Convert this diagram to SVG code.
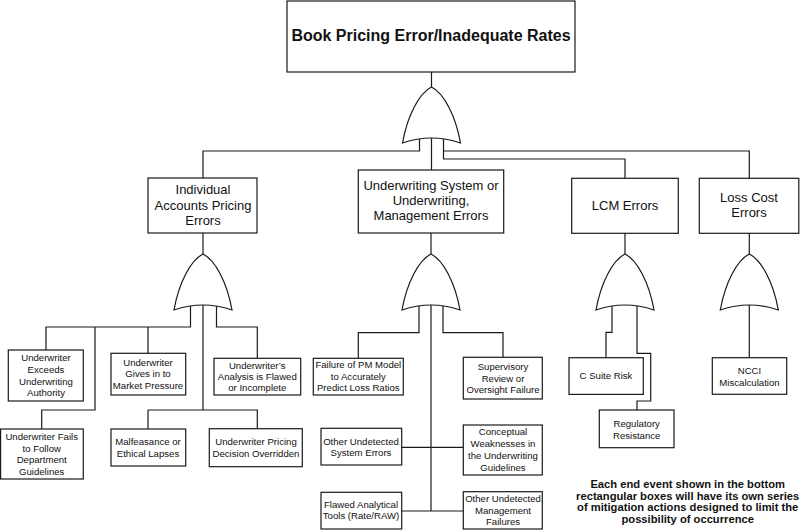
<svg xmlns="http://www.w3.org/2000/svg" width="800" height="531" viewBox="0 0 800 531">
<style>
  .box { fill: #ffffff; stroke: #1a1a1a; stroke-width: 1.2; }
  .gate { fill: #ffffff; stroke: #1a1a1a; stroke-width: 1.2; stroke-linejoin: miter; }
  .conn { fill: none; stroke: #1a1a1a; stroke-width: 1.2; }
  text { font-family: "Liberation Sans", Arial, sans-serif; fill: #111111; text-anchor: middle; }
  .title { font-size: 16px; font-weight: bold; }
  .mid { font-size: 13px; }
  .small { font-size: 9.6px; }
  .note { font-size: 11.2px; font-weight: bold; }
</style>
<defs>
  <path id="orgate" d="M0,0 C-12,6 -24,28 -29,56 Q0,46 29,56 C24,28 12,6 0,0 Z"/>
</defs>

<g id="connectors" class="conn">
  <!-- top -->
  <path d="M431.5,72 V170"/>
  <path d="M419.5,138 V151 H203 V178"/>
  <path d="M443.5,138 V159 H625 V178.3"/>
  <path d="M443.5,151 H749.3 V178.3"/>
  <!-- individual subtree -->
  <path d="M203,233 V410"/>
  <path d="M148,410 H257.3 V429"/>
  <path d="M148,410 V429"/>
  <path d="M190.5,305 V327 H46 V350"/>
  <path d="M148,327 V353.3"/>
  <path d="M95,327 V410 H41.7 V429"/>
  <path d="M216.5,305 V327 H257.3 V358.3"/>
  <!-- middle subtree -->
  <path d="M431,233 V511"/>
  <path d="M419,305 V332.7 H358.3 V358.3"/>
  <path d="M443,305 V332.7 H503 V357.3"/>
  <path d="M401.7,447.3 H463.3"/>
  <path d="M401.7,511 H463.3"/>
  <!-- LCM subtree -->
  <path d="M625,233 V260"/>
  <path d="M612,305 V332.3 H606 V357.7"/>
  <path d="M637,305 V353.3 H650.7 V401 H637 V410"/>
  <!-- loss cost subtree -->
  <path d="M749.3,233 V357.7"/>
</g>

<g id="gate-top"><use href="#orgate" class="gate" transform="translate(431.5,87)"/></g>
<g id="gate-individual"><use href="#orgate" class="gate" transform="translate(203,254)"/></g>
<g id="gate-system"><use href="#orgate" class="gate" transform="translate(431,254)"/></g>
<g id="gate-lcm"><use href="#orgate" class="gate" transform="translate(625,254)"/></g>
<g id="gate-losscost"><use href="#orgate" class="gate" transform="translate(749.3,254)"/></g>

<g id="top">
  <rect class="box" x="287" y="1" width="288" height="71"/>
  <text class="title" x="431" y="41">Book Pricing Error/Inadequate Rates</text>
</g>

<g id="individual">
  <rect class="box" x="148" y="178" width="109" height="55"/>
  <text class="mid" x="203"><tspan x="203" y="194.3">Individual</tspan><tspan x="203" y="209.6">Accounts Pricing</tspan><tspan x="203" y="224.9">Errors</tspan></text>
</g>

<g id="system">
  <rect class="box" x="358.3" y="170" width="145.4" height="63"/>
  <text class="mid" x="431"><tspan x="431" y="189.6">Underwriting System or</tspan><tspan x="431" y="204.6">Underwriting,</tspan><tspan x="431" y="220.3">Management Errors</tspan></text>
</g>

<g id="lcm">
  <rect class="box" x="571.7" y="178.3" width="106.6" height="55"/>
  <text class="mid" x="625" y="209.6">LCM Errors</text>
</g>

<g id="losscost">
  <rect class="box" x="699.3" y="178.3" width="99.5" height="55"/>
  <text class="mid" x="749"><tspan x="749" y="201.9">Loss Cost</tspan><tspan x="749" y="216.9">Errors</tspan></text>
</g>

<g id="exceeds">
  <rect class="box" x="8.3" y="350" width="75" height="51"/>
  <text class="small"><tspan x="46" y="361.2">Underwriter</tspan><tspan x="46" y="372.8">Exceeds</tspan><tspan x="46" y="384.5">Underwriting</tspan><tspan x="46" y="396.2">Authority</tspan></text>
</g>

<g id="gives-in">
  <rect class="box" x="111" y="353.3" width="74.7" height="41.7"/>
  <text class="small"><tspan x="148" y="365.8">Underwriter</tspan><tspan x="148" y="376.8">Gives in to</tspan><tspan x="148" y="388.5">Market Pressure</tspan></text>
</g>

<g id="analysis">
  <rect class="box" x="214" y="358.3" width="86.7" height="36.7"/>
  <text class="small"><tspan x="257.3" y="368.5">Underwriter’s</tspan><tspan x="257.3" y="379.8">Analysis is Flawed</tspan><tspan x="257.3" y="391.2">or Incomplete</tspan></text>
</g>

<g id="fails">
  <rect class="box" x="0.6" y="429" width="82.7" height="50"/>
  <text class="small"><tspan x="41.7" y="440.2">Underwriter Fails</tspan><tspan x="41.7" y="451.5">to Follow</tspan><tspan x="41.7" y="463.2">Department</tspan><tspan x="41.7" y="474.5">Guidelines</tspan></text>
</g>

<g id="malfeasance">
  <rect class="box" x="111" y="429" width="74.7" height="37"/>
  <text class="small"><tspan x="148" y="445.2">Malfeasance or</tspan><tspan x="148" y="456.8">Ethical Lapses</tspan></text>
</g>

<g id="overridden">
  <rect class="box" x="209.3" y="428.7" width="93" height="38"/>
  <text class="small"><tspan x="256" y="444.5">Underwriter Pricing</tspan><tspan x="256" y="456.5">Decision Overridden</tspan></text>
</g>

<g id="pm-model">
  <rect class="box" x="313.3" y="358.3" width="90" height="36.7"/>
  <text class="small"><tspan x="358.3" y="368.2">Failure of PM Model</tspan><tspan x="358.3" y="379.5">to Accurately</tspan><tspan x="358.3" y="390.8">Predict Loss Ratios</tspan></text>
</g>

<g id="supervisory">
  <rect class="box" x="463.3" y="357.3" width="79" height="41.7"/>
  <text class="small"><tspan x="503" y="370.2">Supervisory</tspan><tspan x="503" y="381.7">Review or</tspan><tspan x="503" y="392.8">Oversight Failure</tspan></text>
</g>

<g id="other-system">
  <rect class="box" x="321" y="428.3" width="80.7" height="36.7"/>
  <text class="small"><tspan x="361" y="445.2">Other Undetected</tspan><tspan x="361" y="456.2">System Errors</tspan></text>
</g>

<g id="conceptual">
  <rect class="box" x="463.3" y="425" width="79" height="50"/>
  <text class="small"><tspan x="503" y="435.2">Conceptual</tspan><tspan x="503" y="447.2">Weaknesses in</tspan><tspan x="503" y="459.2">the Underwriting</tspan><tspan x="503" y="470.8">Guidelines</tspan></text>
</g>

<g id="flawed-tools">
  <rect class="box" x="321" y="492.3" width="80.7" height="36.7"/>
  <text class="small"><tspan x="361" y="507.8">Flawed Analytical</tspan><tspan x="361" y="519.2">Tools (Rate/RAW)</tspan></text>
</g>

<g id="other-management">
  <rect class="box" x="463.3" y="491.7" width="79" height="37.3"/>
  <text class="small"><tspan x="503" y="501.8">Other Undetected</tspan><tspan x="503" y="513.5">Management</tspan><tspan x="503" y="525.2">Failures</tspan></text>
</g>

<g id="c-suite">
  <rect class="box" x="569" y="357.7" width="74.3" height="36.7"/>
  <text class="small" x="606" y="379.2">C Suite Risk</text>
</g>

<g id="regulatory">
  <rect class="box" x="599.3" y="410" width="74.7" height="37.7"/>
  <text class="small"><tspan x="636.7" y="426.8">Regulatory</tspan><tspan x="636.7" y="438.5">Resistance</tspan></text>
</g>

<g id="ncci">
  <rect class="box" x="712.3" y="357.7" width="74.4" height="36.6"/>
  <text class="small"><tspan x="749.5" y="374.2">NCCI</tspan><tspan x="749.5" y="385.8">Miscalculation</tspan></text>
</g>

<g id="note">
  <text class="note"><tspan x="687.7" y="488.2">Each end event shown in the bottom</tspan><tspan x="687.7" y="499.6">rectangular boxes will have its own series</tspan><tspan x="687.7" y="511.2">of mitigation actions designed to limit the</tspan><tspan x="687.7" y="523.2">possibility of occurrence</tspan></text>
</g>
</svg>
